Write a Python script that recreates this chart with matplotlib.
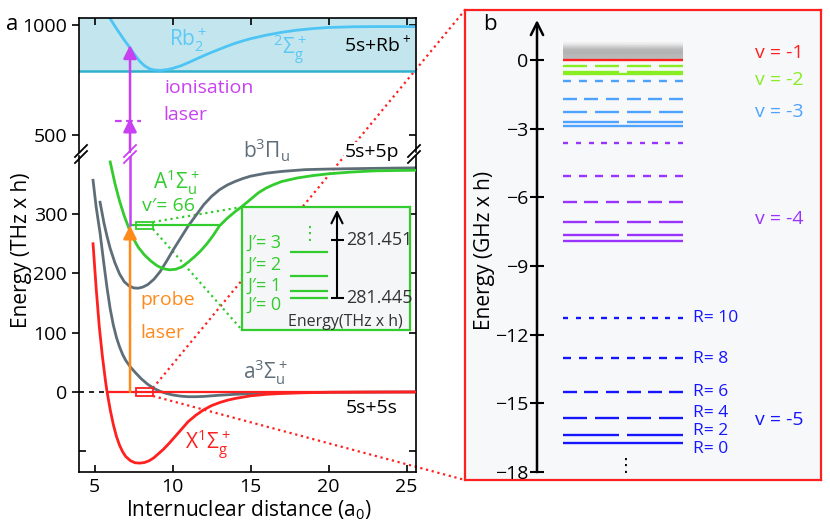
import numpy as np
import matplotlib.pyplot as plt
from matplotlib.lines import Line2D

plt.rcParams['font.family'] = ['Open Sans', 'DejaVu Sans']
plt.rcParams['mathtext.default'] = 'regular'

W, H = 830, 526

# ---- panel a : potential curves ----
r_X = [4.9, 5.1, 5.3, 5.5, 5.7, 5.8, 6.0, 6.2, 6.4, 6.6, 6.8, 7.0, 7.3, 7.6, 7.9, 8.2, 8.5, 8.8,
       9.1, 9.4, 9.8, 10.2, 10.6, 11.0, 11.5, 12.0, 12.5, 13.0, 13.5, 14.0, 15.0, 16.0, 17.0,
       18.5, 20.0, 22.5, 25.6]
e_X = [250, 175, 110, 60, 18, 0, -30, -55, -75, -90, -101, -109, -116, -119.5, -120, -119, -116, -111,
       -104, -97, -86, -74, -62, -50, -39, -30, -23, -18, -14, -11, -6.5, -4, -2.5,
       -1.3, -0.6, -0.2, 0]

r_a = [4.9, 5.1, 5.35, 5.6, 5.8, 6.0, 6.2, 6.4, 6.6, 6.8, 7.0, 7.3, 7.6, 8.0, 8.4, 8.8, 9.2, 9.6,
       10.0, 10.5, 11.0, 11.5, 12.0, 12.5, 13.0, 14.0, 15.0, 16.0, 18.0, 20.0, 25.6]
e_a = [357, 312, 268, 215, 175, 140, 113, 92, 76, 63, 53, 42, 33, 22, 13, 6, 1, -2.5,
       -5, -7, -8, -8, -7.5, -6.5, -5.5, -4, -2.8, -2, -1, -0.5, 0]

r_b = [5.35, 5.6, 5.8, 6.0, 6.3, 6.6, 6.9, 7.2, 7.5, 7.8, 8.1, 8.4, 8.8, 9.2, 9.6, 10.0, 10.5, 11.0,
       11.5, 12.0, 12.5, 13.0, 13.5, 14.0, 14.5, 15.0, 16.0, 17.0, 18.5, 20.0, 22.5, 25.6]
e_b = [320, 285, 262, 242, 218, 199, 186, 179, 175.5, 175, 177, 181, 190, 203, 220, 238, 259, 280,
       298, 316, 330, 341, 349, 355, 360, 364, 369, 372, 375, 376, 377, 378]

r_A = [6.0, 6.3, 6.6, 6.9, 7.2, 7.5, 7.8, 8.2, 8.6, 9.0, 9.4, 9.8, 10.2, 10.6, 11.0, 11.4, 11.8,
       12.2, 12.6, 13.0, 13.5, 14.0, 14.5, 15.0, 15.5, 16.0, 16.5, 17.0, 18.0, 19.0, 20.0, 21.5,
       23.0, 25.6]
e_A = [388, 352, 322, 297, 276, 258, 244, 231, 221, 213, 208, 206, 207, 211, 219, 228, 238,
       250, 264, 280, 293, 304, 314, 325, 336, 344, 350, 355, 361, 365, 368, 371,
       373, 374]

r_ion = [5.99, 6.3, 6.6, 6.9, 7.27, 7.6, 7.9, 8.2, 8.5, 8.8, 9.2, 9.6, 10.0, 10.5, 11.0, 11.5, 12.0,
         12.5, 13.0, 13.5, 14.0, 14.5, 15.0, 16.0, 17.0, 18.0, 19.0, 20.0, 21.5, 23.0, 25.6]
e_ion = [1030, 995, 963, 932, 896, 862, 835, 815, 802, 796, 794, 797, 803, 814, 829, 845, 861,
         876, 890, 904, 917, 928, 938, 954, 967, 977, 984, 989, 992, 993, 993]
ion_threshold = 792

r_laser = 7.27
probe_E = 281
ion_mid_E = 564
ion_top_E = 909

# inset: rotational levels of v'=66 (THz)
J_vals = [0, 1, 2, 3]
J_E = [281.4450, 281.4457, 281.4473, 281.4498]
J_label_E = [281.4443, 281.4463, 281.4484, 281.4507]

# ---- panel b : bound levels (GHz) ----
v_names = [-1, -2, -3, -4, -5]
lev_v1 = [0.0]
R_v1 = [0]
lev_v2 = [-0.28, -0.50, -0.60]
R_v2 = [4, 2, 0]
lev_v3 = [-0.92, -1.72, -2.28, -2.69, -2.88]
R_v3 = [8, 6, 4, 2, 0]
lev_v4 = [-3.61, -5.05, -6.21, -7.07, -7.66, -7.89]
R_v4 = [10, 8, 6, 4, 2, 0]
lev_v5 = [-11.28, -13.0, -14.48, -15.64, -16.38, -16.72]
R_v5 = [10, 8, 6, 4, 2, 0]

RED = '#ff2020'
GRAY = '#5e6e79'
GREEN = '#33cc2e'
MAG = '#c940f2'
ORANGE = '#ff8a1c'


def box(px0, py0, px1, py1):
    return [px0 / W, 1 - py1 / H, (px1 - px0) / W, (py1 - py0) / H]


def fpt(px, py):
    return px / W, 1 - py / H


def ftxt(px, py, s, **kw):
    kw.setdefault('ha', 'center')
    kw.setdefault('va', 'center')
    kw.setdefault('fontsize', 14)
    fig.text(px / W, 1 - py / H, s, **kw)


def fline(p0, p1, **kw):
    (x0, y0), (x1, y1) = fpt(*p0), fpt(*p1)
    fig.add_artist(Line2D([x0, x1], [y0, y1], transform=fig.transFigure, **kw))


fig = plt.figure(figsize=(8.3, 5.26), dpi=100)

# ---------------- panel a ----------------
axU = fig.add_axes(box(79, 18, 416, 152))
axL = fig.add_axes(box(79, 156, 416, 472))
for ax in (axU, axL):
    ax.set_facecolor('none')
    ax.set_xlim(4, 25.6)
    for s in ax.spines.values():
        s.set_linewidth(1.2)
axU.set_ylim(423, 1032)
axL.set_ylim(-135, 398)
axU.spines['bottom'].set_visible(False)
axL.spines['top'].set_visible(False)

axU.set_xticks([5, 10, 15, 20, 25])
axU.tick_params(axis='x', bottom=False, top=True, labelbottom=False, direction='in', length=5, width=1.2)
axU.set_yticks([500, 1000])
axU.tick_params(axis='y', left=True, right=True, direction='out', length=5, width=1.2, labelsize=14)
for t in axU.yaxis.get_major_ticks():
    t.tick2line.set_marker(0)

axL.set_xticks([5, 10, 15, 20, 25])
axL.tick_params(axis='x', direction='in', length=5, width=1.2, labelsize=14, pad=4)
axL.set_yticks([0, 100, 200, 300])
axL.set_yticks([-100], minor=True)
axL.tick_params(axis='y', which='major', left=True, right=True, direction='out', length=5, width=1.2, labelsize=14)
axL.tick_params(axis='y', which='minor', left=True, right=True, direction='in', length=5, width=1.2)
for t in axL.yaxis.get_major_ticks():
    t.tick2line.set_marker(0)

# ionisation continuum
axU.axhspan(ion_threshold, 1032, color='#c3e6ee', lw=0, zorder=0)
axU.axhline(ion_threshold, color='#2fb0cc', lw=1.8, zorder=1)
axU.plot(r_ion, e_ion, color='#4ec4f4', lw=2, zorder=2)

# curves
axL.plot(r_X, e_X, color=RED, lw=2, zorder=3)
axL.plot(r_a, e_a, color=GRAY, lw=2, zorder=2)
axL.plot(r_b, e_b, color=GRAY, lw=2, zorder=2)
axL.plot(r_A, e_A, color=GREEN, lw=2, zorder=3)
axL.hlines(0, 4, r_X[5], color='k', lw=1.2, ls=(0, (3, 3)))
axL.hlines(0, r_X[5], 25.6, color=RED, lw=1.6, zorder=3)
axL.hlines(probe_E, r_laser, 13.0, color=GREEN, lw=1.6, zorder=3)
axL.add_patch(plt.Rectangle((7.65, 275), 1.09, 12, fill=False, ec=GREEN, lw=1.3, zorder=4))
axL.add_patch(plt.Rectangle((7.65, -7), 1.09, 14, fill=False, ec=RED, lw=1.3, zorder=4))

# lasers
arr = dict(arrowstyle='-|>', lw=1.8, mutation_scale=20, shrinkA=0, shrinkB=0)
axL.plot([r_laser, r_laser], [probe_E, 398], color=MAG, lw=1.8, zorder=4)
axL.annotate('', xy=(r_laser, probe_E), xytext=(r_laser, 0),
             arrowprops=dict(color=ORANGE, **arr), zorder=5)
axU.annotate('', xy=(r_laser, ion_mid_E + 12), xytext=(r_laser, 423),
             arrowprops=dict(color=MAG, **arr), annotation_clip=False)
axU.annotate('', xy=(r_laser, ion_top_E), xytext=(r_laser, ion_mid_E),
             arrowprops=dict(color=MAG, **arr))
axU.hlines(ion_mid_E, 6.3, 8.0, color=MAG, lw=1.6, ls=(0, (3, 2)))

# axis break marks
for bx, col in ((81, 'k'), (414, 'k'), (130, MAG)):
    for dy in (-3, 3):
        fline((bx - 6, 160 + dy), (bx + 6, 148 + dy), color=col, lw=1.3)

# zoom lines (drawn behind)
fline((153, 388), (465, 10), color=RED, lw=1.6, ls=':', zorder=-1)
fline((153, 396), (465, 480), color=RED, lw=1.6, ls=':', zorder=-1)
fline((153, 222), (242, 207), color=GREEN, lw=1.6, ls=':', zorder=-1)
fline((153, 229), (242, 330), color=GREEN, lw=1.6, ls=':', zorder=-1)

# labels panel a
ftxt(12, 25, 'a', fontsize=16)
ftxt(188, 40, r'Rb$_2^+$', color='#5cc8f5', fontsize=15)
ftxt(290, 50, r'$^2\Sigma_g^+$', color='#5cc8f5', fontsize=15)
ftxt(378, 45, r'5s+Rb$^+$')
ftxt(209, 88, 'ionisation', color=MAG)
ftxt(163, 115, 'laser', color=MAG, ha='left')
ftxt(267, 150, r'b$^3\Pi_u$', color=GRAY, fontsize=15)
ftxt(372, 152, '5s+5p', bbox=dict(fc='white', ec='none', pad=0.5))
ftxt(176, 182, r'A$^1\Sigma_u^+$', color=GREEN, fontsize=15)
ftxt(168, 206, 'v\u2032= 66', color=GREEN)
ftxt(140, 300, 'probe', color=ORANGE, ha='left')
ftxt(140, 333, 'laser', color=ORANGE, ha='left')
ftxt(266, 372, r'a$^3\Sigma_u^+$', color=GRAY, fontsize=15)
ftxt(372, 408, '5s+5s')
ftxt(208, 445, r'X$^1\Sigma_g^+$', color=RED, fontsize=15)
ftxt(22, 250, 'Energy (THz x h)', rotation=90, fontsize=15)
ftxt(249, 510, r'Internuclear distance (a$_0$)', fontsize=15)

# inset
axI = fig.add_axes(box(242, 207, 410, 330), zorder=3)
axI.set_facecolor('#f5f6f8')
axI.set_xlim(242, 410)
axI.set_ylim(281.4417, 281.4544)
axI.set_xticks([])
axI.set_yticks([])
for s in axI.spines.values():
    s.set_color(GREEN)
    s.set_linewidth(1.6)
axI.hlines(J_E, 290, 328, color=GREEN, lw=1.6)
for j, ey in zip(J_vals, J_label_E):
    axI.text(247, ey, f'J\u2032= {j}', color=GREEN, fontsize=13, va='center')
axI.annotate('', xy=(337, 281.4541), xytext=(337, J_E[0]),
             arrowprops=dict(arrowstyle='->', color='k', lw=1.5, mutation_scale=20, shrinkA=0, shrinkB=0))
axI.hlines([281.445, 281.451], 331, 344, color='k', lw=1.5)
axI.text(346, 281.451, '281.451', fontsize=13, va='center', color='#333333')
axI.text(346, 281.445, '281.445', fontsize=13, va='center', color='#333333')
axI.text(345, 281.4425, 'Energy(THz x h)', fontsize=11.5, ha='center', va='center', color='#333333')
axI.text(310, 281.4516, '\u22ee', fontsize=13, ha='center', va='center', color=GREEN, family='DejaVu Sans')

# ---------------- panel b ----------------
axB = fig.add_axes(box(465, 10, 821, 480))
axB.set_facecolor('#f7f8fa')
axB.set_xticks([])
axB.set_yticks([])
for s in axB.spines.values():
    s.set_color(RED)
    s.set_linewidth(1.6)

axE = fig.add_axes(box(537, 12, 821, 479))
axE.set_facecolor('none')
for s in axE.spines.values():
    s.set_visible(False)
axE.set_xticks([])
axE.set_yticks([0, -3, -6, -9, -12, -15, -18])
axE.tick_params(axis='y', direction='inout', length=10, width=1.5, labelsize=14, pad=1)
axE.annotate('', xy=(537, 1.75), xytext=(537, -18),
             arrowprops=dict(arrowstyle='->', color='k', lw=1.8, mutation_scale=22, shrinkA=0, shrinkB=0),
             annotation_clip=False)

# continuum shading
grad = np.array([[0.93], [0.82], [0.72], [0.70], [0.72], [0.74]])
axE.imshow(grad, cmap='gray', vmin=0, vmax=1, aspect='auto', extent=(563, 683, 0.0, 0.75),
           interpolation='bilinear', zorder=1)

LX0, LX1, GAP = 563, 683, 7.5
b_cols = [RED, '#88ee22', '#4da3ff', '#9933ff', '#1515ff']
b_levels = [lev_v1, lev_v2, lev_v3, lev_v4, lev_v5]
b_R = [R_v1, R_v2, R_v3, R_v4, R_v5]
for col, levs, Rs in zip(b_cols, b_levels, b_R):
    for e, R in zip(levs, Rs):
        n = max(R, 1)
        d = (LX1 - LX0 - (n - 1) * GAP) / n
        x0 = LX0 + np.arange(n) * (d + GAP)
        axE.hlines(np.full(n, e), x0, x0 + d, color=col, lw=1.7, zorder=2)

axE.set_xlim(537, 821)
axE.set_ylim(-18.3, 2.1)

v_label_py = [53, 80, 112, 219, 420]
for v, col, py in zip(v_names, b_cols, v_label_py):
    ftxt(755, py, f'v = {v}', color=col, ha='left')

R_label_py = [318, 359, 392, 413, 431, 449]
for R, py in zip(R_v5, R_label_py):
    ftxt(693, py, f'R= {R}', color='#1515ff', ha='left', fontsize=12.5, linespacing=1.0)

ftxt(626, 466, '\u22ee', fontsize=13, family='DejaVu Sans')
ftxt(490, 25, 'b', fontsize=16)
ftxt(484, 250, 'Energy (GHz x h)', rotation=90, fontsize=15)

fig.savefig('out.png', dpi=100)
